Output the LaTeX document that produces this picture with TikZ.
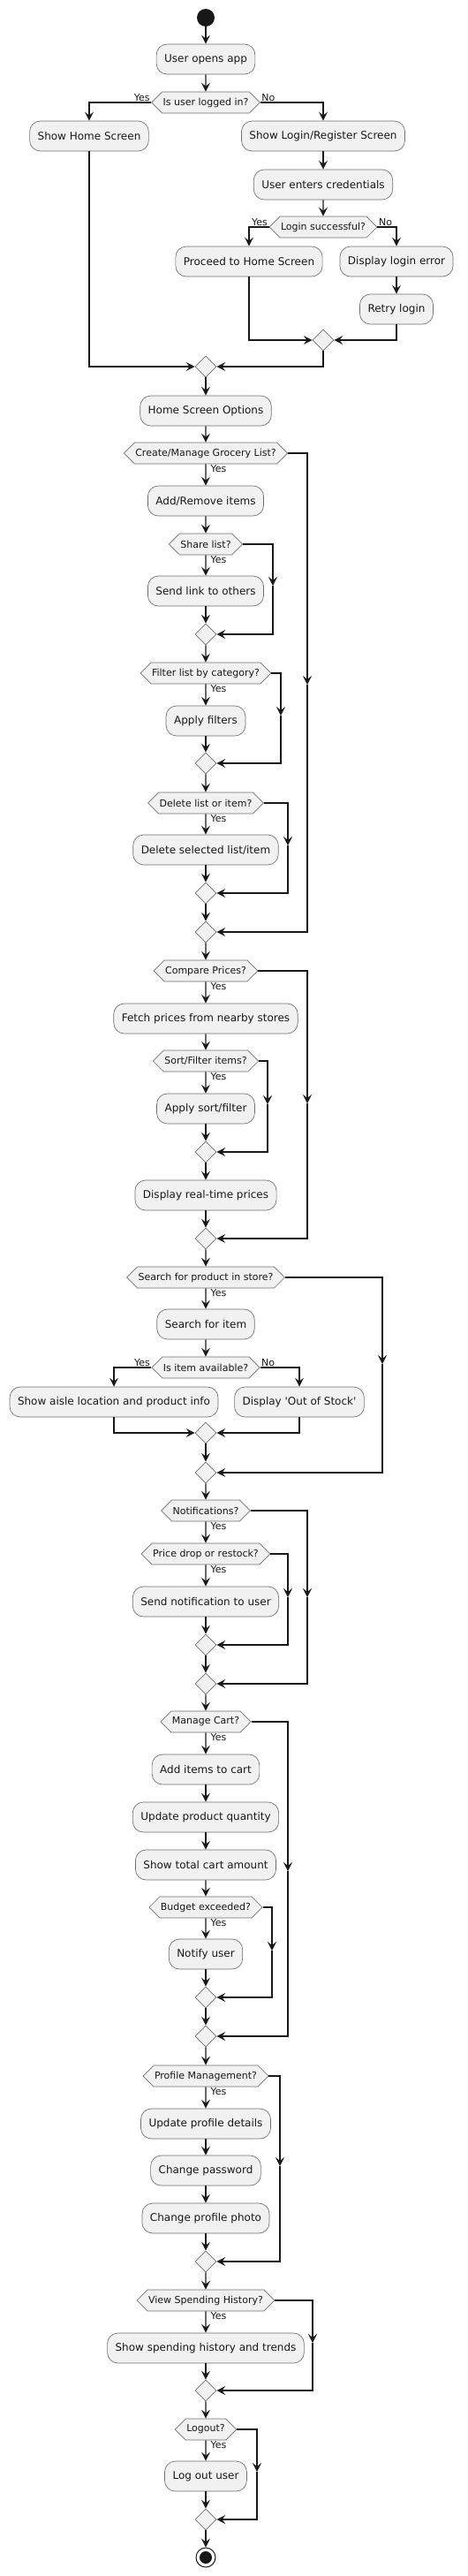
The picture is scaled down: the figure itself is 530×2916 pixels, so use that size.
\documentclass[tikz,border=0pt]{standalone}
\usepackage{fontspec}
\setmainfont{DejaVu Sans}
\usetikzlibrary{shapes.geometric,shapes.symbols,arrows.meta}

\definecolor{umlfill}{RGB}{241,241,241}
\definecolor{umlline}{RGB}{24,24,24}
\definecolor{umlborder}{RGB}{110,110,110}

\tikzset{
  act/.style={rectangle, rounded corners=9pt, draw=umlborder, line width=0.5pt, fill=umlfill,
    minimum height=25.5pt, inner xsep=6.75pt, font=\fontsize{9}{11}\selectfont, text=umlline},
  ask/.style={signal, signal to=west and east, signal pointer angle=90, draw=umlborder,
    line width=0.5pt, fill=umlfill, minimum height=18pt, inner xsep=0.75pt, inner ysep=1pt,
    font=\fontsize{8.25}{10}\selectfont, text=umlline},
  mergept/.style={diamond, draw=umlborder, line width=0.5pt, fill=umlfill,
    minimum width=18pt, minimum height=18pt, inner sep=0pt},
  startdot/.style={circle, fill=umlline, minimum size=15pt, inner sep=0pt},
  flow/.style={draw=umlline, line width=0.9pt, -{Stealth[length=7.5pt,width=7.5pt,inset=3pt]}},
  lbl/.style={font=\fontsize{8.25}{10}\selectfont, inner sep=1pt, text=umlline},
}

\begin{document}
\begin{tikzpicture}[x=0.75pt,y=0.75pt,yscale=-1,xscale=1]
\useasboundingbox (0,0) rectangle (530,2916);

% Login
\node[startdot] (start) at (233,20) {};
\node[act] (a1) at (233,67) {User opens app};
\node[ask] (d1) at (233,116) {Is user logged in?};
\node[lbl, anchor=south east] (yes1) at (d1.west) {Yes};
\node[lbl, anchor=south west] (no1) at (d1.east) {No};
\node[act] (a2) at (101,154) {Show Home Screen};
\node[act] (a3) at (366,154) {Show Login/Register Screen};
\node[act] (a4) at (366,209) {User enters credentials};
\node[ask] (d2) at (366,257) {Login successful?};
\node[lbl, anchor=south east] (yes2) at (d2.west) {Yes};
\node[lbl, anchor=south west] (no2) at (d2.east) {No};
\node[act] (a5) at (282,296) {Proceed to Home Screen};
\node[act] (a6) at (449,296) {Display login error};
\node[act] (a7) at (449,350) {Retry login};
\node[mergept] (m1) at (366,385) {};
\node[mergept] (m2) at (233,415) {};
\node[act] (a8) at (233,465) {Home Screen Options};

\draw[flow] (start) -- (a1);
\draw[flow] (a1) -- (d1);
\draw[flow] (d1.west) -| (a2);
\draw[flow] (d1.east) -| (a3);
\draw[flow] (a3) -- (a4);
\draw[flow] (a4) -- (d2);
\draw[flow] (d2.west) -| (a5);
\draw[flow] (d2.east) -| (a6);
\draw[flow] (a6) -- (a7);
\draw[flow] (a5) |- (m1);
\draw[flow] (a7) |- (m1);
\draw[flow] (a2) |- (m2);
\draw[flow] (m1) |- (m2);
\draw[flow] (m2) -- (a8);

% Grocery list
\node[ask] (d3) at (233,513) {Create/Manage Grocery List?};
\node[lbl, anchor=north west] (yes3) at ([xshift=3pt]d3.south) {Yes};
\node[act] (a9) at (233,567) {Add/Remove items};
\node[ask] (d4) at (233,616) {Share list?};
\node[lbl, anchor=north west] (yes4) at ([xshift=3pt]d4.south) {Yes};
\node[act] (a10) at (233,669) {Send link to others};
\node[mergept] (m3) at (233,718) {};
\node[ask] (d5) at (233,762) {Filter list by category?};
\node[lbl, anchor=north west] (yes5) at ([xshift=3pt]d5.south) {Yes};
\node[act] (a11) at (233,816) {Apply filters};
\node[mergept] (m4) at (233,864) {};
\node[ask] (d6) at (233,909) {Delete list or item?};
\node[lbl, anchor=north west] (yes6) at ([xshift=3pt]d6.south) {Yes};
\node[act] (a12) at (233,962) {Delete selected list/item};
\node[mergept] (m5) at (233,1011) {};
\node[mergept] (m6) at (233,1055) {};
\coordinate (k3) at (348,775);
\coordinate (k4) at (309,663);
\coordinate (k5) at (318,810);
\coordinate (k6) at (326,957);

\draw[flow] (a8) -- (d3);
\draw[flow] (d3) -- (a9);
\draw[flow] (a9) -- (d4);
\draw[flow] (d4) -- (a10);
\draw[flow] (a10) -- (m3);
\draw[flow] (m3) -- (d5);
\draw[flow] (d5) -- (a11);
\draw[flow] (a11) -- (m4);
\draw[flow] (m4) -- (d6);
\draw[flow] (d6) -- (a12);
\draw[flow] (a12) -- (m5);
\draw[flow] (m5) -- (m6);
\draw[flow] (d3.east) -| (k3);
\draw[flow] (k3) |- (m6.east);
\draw[flow] (d4.east) -| (k4);
\draw[flow] (k4) |- (m3.east);
\draw[flow] (d5.east) -| (k5);
\draw[flow] (k5) |- (m4.east);
\draw[flow] (d6.east) -| (k6);
\draw[flow] (k6) |- (m5.east);

% Prices
\node[ask] (d7) at (233,1099) {Compare Prices?};
\node[lbl, anchor=north west] (yes7) at ([xshift=3pt]d7.south) {Yes};
\node[act] (a13) at (233,1153) {Fetch prices from nearby stores};
\node[ask] (d8) at (233,1201) {Sort/Filter items?};
\node[lbl, anchor=north west] (yes8) at ([xshift=3pt]d8.south) {Yes};
\node[act] (a14) at (233,1255) {Apply sort/filter};
\node[mergept] (m7) at (233,1304) {};
\node[act] (a15) at (233,1353) {Display real-time prices};
\node[mergept] (m8) at (233,1402) {};
\coordinate (k7) at (348,1249);
\coordinate (k8) at (303,1250);

\draw[flow] (m6) -- (d7);
\draw[flow] (d7) -- (a13);
\draw[flow] (a13) -- (d8);
\draw[flow] (d8) -- (a14);
\draw[flow] (a14) -- (m7);
\draw[flow] (m7) -- (a15);
\draw[flow] (a15) -- (m8);
\draw[flow] (d7.east) -| (k7);
\draw[flow] (k7) |- (m8.east);
\draw[flow] (d8.east) -| (k8);
\draw[flow] (k8) |- (m7.east);

% Store search
\node[ask] (d9) at (233,1446) {Search for product in store?};
\node[lbl, anchor=north west] (yes9) at ([xshift=3pt]d9.south) {Yes};
\node[act] (a16) at (233,1499) {Search for item};
\node[ask] (d10) at (233,1548) {Is item available?};
\node[lbl, anchor=south east] (yes10) at (d10.west) {Yes};
\node[lbl, anchor=south west] (no10) at (d10.east) {No};
\node[act] (a17) at (129,1587) {Show aisle location and product info};
\node[act] (a18) at (339,1587) {Display \textquotesingle Out of Stock\textquotesingle};
\node[mergept] (m9) at (233,1622) {};
\node[mergept] (m10) at (233,1667) {};
\coordinate (k9) at (433,1544);

\draw[flow] (m8) -- (d9);
\draw[flow] (d9) -- (a16);
\draw[flow] (a16) -- (d10);
\draw[flow] (d10.west) -| (a17);
\draw[flow] (d10.east) -| (a18);
\draw[flow] (a17) |- (m9);
\draw[flow] (a18) |- (m9);
\draw[flow] (m9) -- (m10);
\draw[flow] (d9.east) -| (k9);
\draw[flow] (k9) |- (m10.east);

% Notifications
\node[ask] (d11) at (233,1710) {Notifications?};
\node[lbl, anchor=north west] (yes11) at ([xshift=3pt]d11.south) {Yes};
\node[ask] (d12) at (233,1759) {Price drop or restock?};
\node[lbl, anchor=north west] (yes12) at ([xshift=3pt]d12.south) {Yes};
\node[act] (a19) at (233,1813) {Send notification to user};
\node[mergept] (m11) at (233,1862) {};
\node[mergept] (m12) at (233,1906) {};
\coordinate (k11) at (348,1808);
\coordinate (k12) at (326,1808);

\draw[flow] (m10) -- (d11);
\draw[flow] (d11) -- (d12);
\draw[flow] (d12) -- (a19);
\draw[flow] (a19) -- (m11);
\draw[flow] (m11) -- (m12);
\draw[flow] (d11.east) -| (k11);
\draw[flow] (k11) |- (m12.east);
\draw[flow] (d12.east) -| (k12);
\draw[flow] (k12) |- (m11.east);

% Cart
\node[ask] (d13) at (233,1949) {Manage Cart?};
\node[lbl, anchor=north west] (yes13) at ([xshift=3pt]d13.south) {Yes};
\node[act] (a20) at (233,2003) {Add items to cart};
\node[act] (a21) at (233,2057) {Update product quantity};
\node[act] (a22) at (233,2111) {Show total cart amount};
\node[ask] (d14) at (233,2159) {Budget exceeded?};
\node[lbl, anchor=north west] (yes14) at ([xshift=3pt]d14.south) {Yes};
\node[act] (a23) at (233,2212) {Notify user};
\node[mergept] (m13) at (233,2261) {};
\node[mergept] (m14) at (233,2305) {};
\coordinate (k13) at (326,2118);
\coordinate (k14) at (308,2208);

\draw[flow] (m12) -- (d13);
\draw[flow] (d13) -- (a20);
\draw[flow] (a20) -- (a21);
\draw[flow] (a21) -- (a22);
\draw[flow] (a22) -- (d14);
\draw[flow] (d14) -- (a23);
\draw[flow] (a23) -- (m13);
\draw[flow] (m13) -- (m14);
\draw[flow] (d13.east) -| (k13);
\draw[flow] (k13) |- (m14.east);
\draw[flow] (d14.east) -| (k14);
\draw[flow] (k14) |- (m13.east);

% Profile, history, logout
\node[ask] (d15) at (233,2350) {Profile Management?};
\node[lbl, anchor=north west] (yes15) at ([xshift=3pt]d15.south) {Yes};
\node[act] (a24) at (233,2404) {Update profile details};
\node[act] (a25) at (233,2457) {Change password};
\node[act] (a26) at (233,2511) {Change profile photo};
\node[mergept] (m15) at (233,2560) {};
\node[ask] (d16) at (233,2604) {View Spending History?};
\node[lbl, anchor=north west] (yes16) at ([xshift=3pt]d16.south) {Yes};
\node[act] (a27) at (233,2658) {Show spending history and trends};
\node[mergept] (m16) at (233,2706) {};
\node[ask] (d17) at (233,2750) {Logout?};
\node[lbl, anchor=north west] (yes17) at ([xshift=3pt]d17.south) {Yes};
\node[act] (a28) at (233,2803) {Log out user};
\node[mergept] (m17) at (233,2852) {};
\node[circle, draw=umlline, line width=0.75pt, fill=white, minimum size=16.5pt, inner sep=0pt] (stop) at (233,2895) {};
\node[circle, fill=umlline, minimum size=10.5pt, inner sep=0pt] (stopdot) at (stop) {};
\coordinate (k15) at (317,2452);
\coordinate (k16) at (354,2652);
\coordinate (k17) at (291,2798);

\draw[flow] (m14) -- (d15);
\draw[flow] (d15) -- (a24);
\draw[flow] (a24) -- (a25);
\draw[flow] (a25) -- (a26);
\draw[flow] (a26) -- (m15);
\draw[flow] (m15) -- (d16);
\draw[flow] (d16) -- (a27);
\draw[flow] (a27) -- (m16);
\draw[flow] (m16) -- (d17);
\draw[flow] (d17) -- (a28);
\draw[flow] (a28) -- (m17);
\draw[flow] (m17) -- (stop);
\draw[flow] (d15.east) -| (k15);
\draw[flow] (k15) |- (m15.east);
\draw[flow] (d16.east) -| (k16);
\draw[flow] (k16) |- (m16.east);
\draw[flow] (d17.east) -| (k17);
\draw[flow] (k17) |- (m17.east);

\end{tikzpicture}
\end{document}
